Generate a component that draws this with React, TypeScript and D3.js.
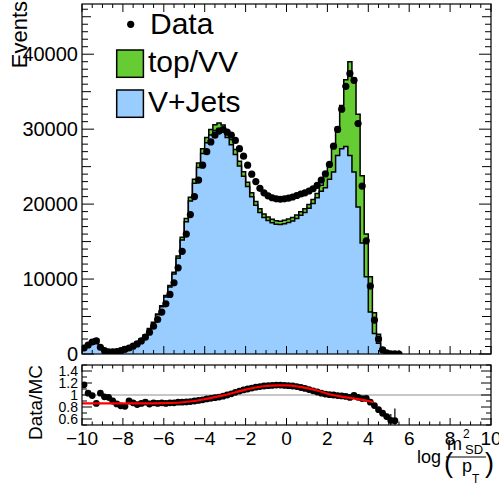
import React from "react";
import * as d3 from "d3";

// ---- data ----
const binWidth = 0.2;
const binCenters = [
  -9.9, -9.7, -9.5, -9.3, -9.1, -8.9, -8.7, -8.5, -8.3, -8.1,
  -7.9, -7.7, -7.5, -7.3, -7.1, -6.9, -6.7, -6.5, -6.3, -6.1,
  -5.9, -5.7, -5.5, -5.3, -5.1, -4.9, -4.7, -4.5, -4.3, -4.1,
  -3.9, -3.7, -3.5, -3.3, -3.1, -2.9, -2.7, -2.5, -2.3, -2.1,
  -1.9, -1.7, -1.5, -1.3, -1.1, -0.9, -0.7, -0.5, -0.3, -0.1,
  0.1, 0.3, 0.5, 0.7, 0.9, 1.1, 1.3, 1.5, 1.7, 1.9,
  2.1, 2.3, 2.5, 2.7, 2.9, 3.1, 3.3, 3.5, 3.7, 3.9,
  4.1, 4.3, 4.5, 4.7, 4.9, 5.1, 5.3, 5.5,
];
const dataCounts = [
  800, 1200, 1600, 1750, 900, 450, 300, 280, 330, 450,
  620, 800, 1050, 1350, 1750, 2250, 2900, 3700, 4600, 5600,
  6700, 7950, 9500, 11500, 13700, 16000, 18600, 21000, 23200, 25200,
  27000, 28300, 29200, 29750, 29950, 29600, 29200, 28500, 27400, 26400,
  25200, 24000, 23000, 22100, 21500, 21100, 20850, 20700, 20650, 20700,
  20800, 20950, 21150, 21350, 21500, 21750, 22050, 22500, 23200, 24050,
  25300, 27730, 29960, 32660, 35720, 37420, 36520, 30750, 22400, 15100,
  9060, 4530, 2000, 550, 150, 30, 8, 3,
];
const vJets = [
  669, 1140, 1581, 1990, 854, 454, 305, 304, 379, 537,
  748, 869, 1180, 1571, 1989, 2499, 3335, 4157, 5229, 6292,
  7616, 8933, 10670, 12768, 15208, 17659, 20409, 22783, 24895, 26741,
  28187, 29227, 29836, 30079, 29821, 28880, 27927, 26603, 25098, 23732,
  22339, 20985, 19844, 18896, 18226, 17808, 17519, 17318, 17275, 17395,
  17554, 17757, 18083, 18498, 18879, 19449, 20077, 20849, 21704, 22195,
  23300, 24300, 26500, 27400, 27700, 26500, 24300, 19600, 14800, 10300,
  5600, 2750, 1450, 400, 110, 25, 8, 0,
];
const topVV = [
  15, 25, 35, 45, 20, 10, 7, 7, 9, 12,
  17, 20, 27, 36, 46, 58, 77, 96, 120, 145,
  175, 205, 250, 300, 360, 420, 490, 550, 600, 650,
  690, 720, 740, 750, 740, 720, 700, 670, 630, 600,
  570, 540, 510, 490, 470, 460, 455, 450, 450, 450,
  455, 460, 470, 480, 490, 505, 530, 580, 820, 1500,
  1870, 3430, 3760, 5760, 8900, 12500, 12500, 12400, 9000, 5700,
  4700, 2750, 1200, 390, 124, 27, 6, 0,
];
// fit curve drawn in the ratio panel
const fitX = [-10, -9, -8, -7, -6, -5.2, -4.5, -4, -3.5, -3, -2.5, -2, -1.5, -1, -0.5, 0, 0.5, 1, 1.5, 2, 2.5, 3, 3.5, 4, 4.25];
const fitY = [0.86, 0.86, 0.86, 0.86, 0.865, 0.875, 0.9, 0.93, 0.965, 1.0, 1.045, 1.09, 1.125, 1.15, 1.162, 1.16, 1.145, 1.115, 1.075, 1.02, 0.985, 0.955, 0.93, 0.9, 0.88];

const yTicksMain = [0, 10000, 20000, 30000, 40000];
const yTickLabels = ["0", "10000", "20000", "30000", "40000"];
const xTicks = [-10, -8, -6, -4, -2, 0, 2, 4, 6, 8, 10];
const xTickLabels = ["\u221210", "\u22128", "\u22126", "\u22124", "\u22122", "0", "2", "4", "6", "8", "10"];
const ratioTicks = [0.6, 0.8, 1, 1.2, 1.4];
const ratioTickLabels = ["0.6", "0.8", "1", "1.2", "1.4"];
const legendLabels = ["Data", "top/VV", "V+Jets"];

const FONT = "'Liberation Sans', Arial, Helvetica, sans-serif";
const GREEN = "#66cc33";
const BLUE = "#99ccff";

export default function App() {
  const W = 499, H = 487;
  const left = 82, right = 491;
  const mainTop = 4, mainBottom = 354;
  const ratTop = 365, ratBottom = 425;

  const x = d3.scaleLinear().domain([-10, 10]).range([left, right]);
  const y = d3.scaleLinear().domain([0, 46700]).range([mainBottom, mainTop]);
  const yr = d3.scaleLinear().domain([0.5, 1.5]).range([ratBottom, ratTop]);

  const total = vJets.map((v, i) => v + topVV[i]);

  const stepPath = (vals: number[]) => {
    let p = `M${x(binCenters[0] - binWidth / 2)},${y(0)}`;
    vals.forEach((v, i) => {
      const x0 = x(binCenters[i] - binWidth / 2);
      const x1 = x(binCenters[i] + binWidth / 2);
      p += `L${x0},${y(v)}L${x1},${y(v)}`;
    });
    p += `L${x(binCenters[binCenters.length - 1] + binWidth / 2)},${y(0)}`;
    return p;
  };

  const ratioPts = binCenters
    .map((c, i) => {
      const t = total[i];
      const d = dataCounts[i];
      if (t <= 0 || d <= 0) return null;
      return { c, r: d / t, e: Math.sqrt(d) / t };
    })
    .filter((p) => p !== null) as { c: number; r: number; e: number }[];

  const fitLine = d3
    .line<number>()
    .x((_, i) => x(fitX[i]))
    .y((v) => yr(v))
    .curve(d3.curveMonotoneX);

  const xMinor = d3.range(-10, 10.001, 0.5);
  const yMinor = d3.range(0, 46001, 1000);
  const rMinor = d3.range(0.5, 1.5001, 0.1);

  const isMult = (v: number, m: number) => Math.abs(v / m - Math.round(v / m)) < 1e-6;

  return (
    <svg
      width={W}
      height={H}
      style={{ position: "absolute", left: 0, top: 0, background: "#fff" }}
      fontFamily={FONT}
    >
      <defs>
        <clipPath id="mainClip">
          <rect x={left} y={mainTop} width={right - left} height={mainBottom - mainTop} />
        </clipPath>
        <clipPath id="ratClip">
          <rect x={left} y={ratTop} width={right - left} height={ratBottom - ratTop} />
        </clipPath>
      </defs>
      <rect x={0} y={0} width={W} height={H} fill="#fff" />

      {/* main panel histograms */}
      <g clipPath="url(#mainClip)">
        <path d={stepPath(total)} fill={GREEN} stroke="#000" strokeWidth={1.5} strokeLinejoin="miter" />
        <path d={stepPath(vJets)} fill={BLUE} stroke="#000" strokeWidth={1.5} strokeLinejoin="miter" />
        {binCenters.map((c, i) =>
          dataCounts[i] > 0 ? (
            <g key={i}>
              <line
                x1={x(c)}
                x2={x(c)}
                y1={y(dataCounts[i] - Math.sqrt(dataCounts[i]))}
                y2={y(dataCounts[i] + Math.sqrt(dataCounts[i]))}
                stroke="#000"
                strokeWidth={1.2}
              />
              <circle cx={x(c)} cy={y(dataCounts[i])} r={3.6} fill="#000" />
            </g>
          ) : null
        )}
      </g>

      {/* main frame & ticks */}
      <rect x={left} y={mainTop} width={right - left} height={mainBottom - mainTop} fill="none" stroke="#000" strokeWidth={1.2} />
      {xMinor.map((v, i) => {
        const len = isMult(v, 2) ? 8 : 4;
        return (
          <g key={"mx" + i}>
            <line x1={x(v)} x2={x(v)} y1={mainBottom} y2={mainBottom - len} stroke="#000" strokeWidth={1} />
            <line x1={x(v)} x2={x(v)} y1={mainTop} y2={mainTop + len} stroke="#000" strokeWidth={1} />
          </g>
        );
      })}
      {yMinor.map((v, i) => {
        const len = isMult(v, 10000) ? 12 : isMult(v, 5000) ? 9 : 6;
        return (
          <g key={"my" + i}>
            <line x1={left} x2={left + len} y1={y(v)} y2={y(v)} stroke="#000" strokeWidth={1} />
            <line x1={right} x2={right - len} y1={y(v)} y2={y(v)} stroke="#000" strokeWidth={1} />
          </g>
        );
      })}
      {yTicksMain.map((v, i) => (
        <text key={"yl" + i} x={78} y={y(v)} dy="0.36em" textAnchor="end" fontSize={20} fill="#000">
          {yTickLabels[i]}
        </text>
      ))}
      <text transform={`translate(27,1) rotate(-90)`} textAnchor="end" fontSize={22} fill="#000">
        Events
      </text>

      {/* legend */}
      <circle cx={130.7} cy={24.3} r={3.6} fill="#000" />
      <text x={150} y={33.5} fontSize={30} fill="#000">{legendLabels[0]}</text>
      <rect x={116.7} y={50} width={26.7} height={27.3} fill={GREEN} stroke="#000" strokeWidth={1.5} />
      <text x={148} y={72} fontSize={30} fill="#000">{legendLabels[1]}</text>
      <rect x={116.7} y={90} width={26.7} height={27.3} fill={BLUE} stroke="#000" strokeWidth={1.5} />
      <text x={148} y={112} fontSize={30} fill="#000">{legendLabels[2]}</text>

      {/* ratio panel */}
      <g clipPath="url(#ratClip)">
        <line x1={left} x2={right} y1={yr(1)} y2={yr(1)} stroke="#b4b4b4" strokeWidth={1.5} />
        {ratioPts.map((p, i) => (
          <g key={"rp" + i}>
            <line x1={x(p.c)} x2={x(p.c)} y1={yr(p.r - p.e)} y2={yr(p.r + p.e)} stroke="#000" strokeWidth={1.2} />
            <circle cx={x(p.c)} cy={yr(p.r)} r={3.4} fill="#000" />
          </g>
        ))}
        <path d={fitLine(fitY) || ""} fill="none" stroke="#ff0000" strokeWidth={2.2} />
      </g>
      <rect x={left} y={ratTop} width={right - left} height={ratBottom - ratTop} fill="none" stroke="#000" strokeWidth={1.2} />
      {xMinor.map((v, i) => {
        const len = isMult(v, 2) ? 7 : 3.5;
        return (
          <g key={"rx" + i}>
            <line x1={x(v)} x2={x(v)} y1={ratBottom} y2={ratBottom - len} stroke="#000" strokeWidth={1} />
            <line x1={x(v)} x2={x(v)} y1={ratTop} y2={ratTop + len} stroke="#000" strokeWidth={1} />
          </g>
        );
      })}
      {rMinor.map((v, i) => {
        const len = isMult(v, 0.2) ? 10 : 5;
        return (
          <g key={"ry" + i}>
            <line x1={left} x2={left + len} y1={yr(v)} y2={yr(v)} stroke="#000" strokeWidth={1} />
            <line x1={right} x2={right - len} y1={yr(v)} y2={yr(v)} stroke="#000" strokeWidth={1} />
          </g>
        );
      })}
      {ratioTicks.map((v, i) => (
        <text key={"rl" + i} x={78} y={yr(v)} dy="0.36em" textAnchor="end" fontSize={14} fill="#000">
          {ratioTickLabels[i]}
        </text>
      ))}
      {xTicks.map((v, i) => (
        <text key={"xl" + i} x={x(v)} y={445} textAnchor="middle" fontSize={19} fill="#000">
          {xTickLabels[i]}
        </text>
      ))}
      <text transform={`translate(42,${ratTop}) rotate(-90)`} textAnchor="end" fontSize={19} fill="#000">
        Data/MC
      </text>

      {/* x-axis title: log (m_SD^2 / p_T) */}
      <g fill="#000">
        <text x={417} y={463} fontSize={18}>log</text>
        <text x={444} y={472} fontSize={27}>(</text>
        <text x={447} y={450} fontSize={18}>m</text>
        <text x={463} y={438} fontSize={12}>2</text>
        <text x={465} y={454} fontSize={13}>SD</text>
        <line x1={446} x2={486} y1={457} y2={457} stroke="#000" strokeWidth={1.2} />
        <text x={462} y={472} fontSize={18}>p</text>
        <text x={472} y={483} fontSize={12}>T</text>
        <text x={485} y={472} fontSize={27}>)</text>
      </g>
    </svg>
  );
}
